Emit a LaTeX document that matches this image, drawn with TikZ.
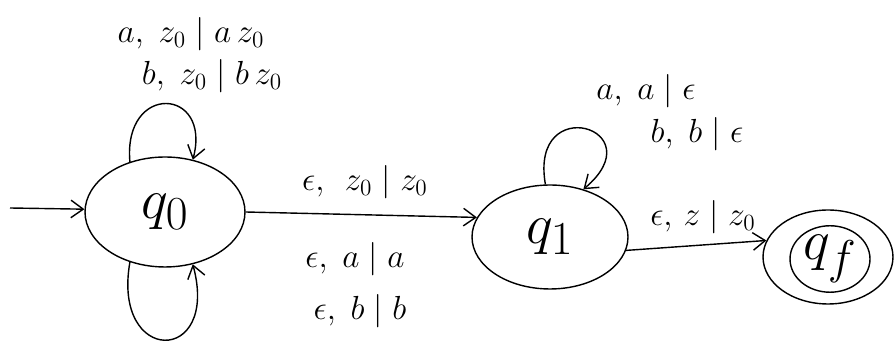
\documentclass[tikz,border=0pt]{standalone}
\usetikzlibrary{shapes.geometric,arrows.meta}
\newcommand{\sname}[1]{\scalebox{1.3}{$#1$}}
\begin{document}
\begin{tikzpicture}[x=0.02cm,y=0.02cm,>={Straight Barb[length=7pt,width=10pt]},thick]
  \tikzstyle{state}=[draw, ellipse, inner sep=0pt, font=\Huge]
  \tikzstyle{lbl}=[font=\LARGE, scale=1.1, inner sep=1pt]
  \useasboundingbox (0,0) rectangle (895,347);

  \node[state, minimum width=3.2cm, minimum height=2.2cm] (q0) at (165,135) {\sname{q_0}};
  \node[state, minimum width=3.12cm, minimum height=2.08cm] (q1) at (550,110) {\sname{q_1}};
  \node[state, minimum width=2.6cm, minimum height=1.88cm] (qf) at (828,90) {};
  \node[state, minimum width=1.6cm, minimum height=1.2cm] (qfin) at (830,88) {\sname{q_f}};
  \coordinate (start) at (10,139);

  \node[lbl] (l00a) at (191,313) {$a,\; z_0 \mid a\, z_0$};
  \node[lbl] (l00b) at (212,271) {$b,\; z_0 \mid b\, z_0$};
  \node[lbl] (l01a) at (365,165) {$\epsilon,\;\, z_0 \mid z_0$};
  \node[lbl] (l01b) at (355,88) {$\epsilon,\; a \mid a$};
  \node[lbl] (l01c) at (360,36) {$\epsilon,\; b \mid b$};
  \node[lbl] (l11a) at (646,256) {$a,\; a \mid \epsilon$};
  \node[lbl] (l11b) at (697,213) {$b,\; b \mid \epsilon$};
  \node[lbl] (l1f) at (703,130) {$\epsilon,\, z \mid z_0$};

  \draw[->] (start) -- (q0.178);
  \draw[->] (q0.125) .. controls +(95:80) and +(75:75) .. (q0.62);
  \draw[->] (q0.235) .. controls +(260:105) and +(285:105) .. (q0.298);
  \draw[->] (q0.east) -- (q1.165);
  \draw[->] (q1.95) .. controls +(100:95) and +(40:95) .. (q1.55);
  \draw[->] (q1.350) -- (qf.165);
\end{tikzpicture}
\end{document}
